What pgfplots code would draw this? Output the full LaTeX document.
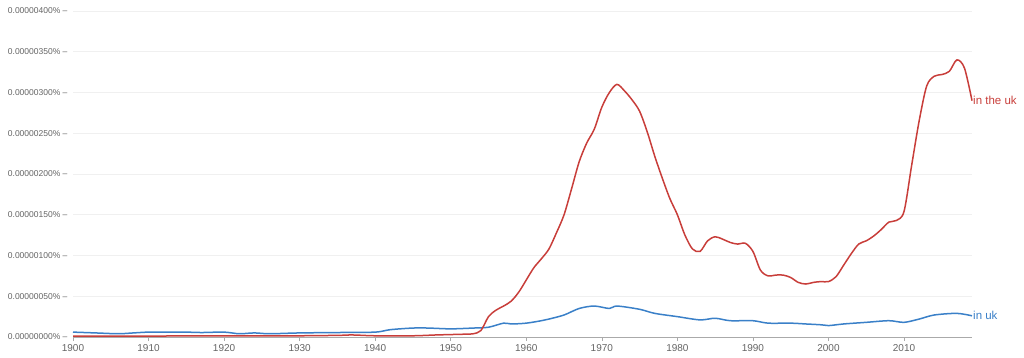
\documentclass[border=0pt]{standalone}
\usepackage{pgfplots}
\pgfplotsset{compat=1.18}
\usepackage{fontspec}
\setmainfont{Liberation Sans}
\definecolor{ngred}{RGB}{200,62,58}
\definecolor{ngblue}{RGB}{58,128,200}
\definecolor{txt}{RGB}{100,100,100}
\definecolor{gridc}{RGB}{240,240,240}
\definecolor{axc}{RGB}{170,170,170}
\begin{document}
\begin{tikzpicture}[x=1pt,y=1pt]
\begin{axis}[
  at={(73pt,20pt)}, anchor=south west,
  scale only axis, width=899pt, height=326pt,
  xmin=1900, xmax=2019, ymin=0, ymax=400,
  axis y line*=left,
  axis x line*=bottom,
  y axis line style={draw=none},
  x axis line style={draw=axc, line width=0.8pt, -},
  /pgf/number format/assume math mode=true,
  xtick={1900,1910,...,2010},
  xticklabel style={font=\fontsize{10}{11}\selectfont, text=txt},
  xticklabel={\pgfmathprintnumber[fixed,1000 sep={},assume math mode=true]{\tick}},
  tick align=outside,
  major tick length=4pt,
  xtick style={draw=axc, line width=0.6pt},
  ytick={0,50,...,400},
  yticklabels={0.00000000\%~–,0.00000050\%~–,0.00000100\%~–,0.00000150\%~–,0.00000200\%~–,0.00000250\%~–,0.00000300\%~–,0.00000350\%~–,0.00000400\%~–},
  yticklabel style={font=\fontsize{8.5}{10}\selectfont, text=txt, anchor=east, xshift=2pt},
  ymajorgrids, grid style={draw=gridc, line width=0.6pt},
  ytick style={draw=none},
  clip=false,
]
\addplot[ngblue, line width=1.5pt, smooth, tension=0.5] coordinates {
(1900,6) (1903,5) (1906,4) (1908,5) (1910,6) (1913,6) (1915,6) (1917,5.5) (1920,6) (1922,4) (1924,5) (1926,4) (1930,5) (1935,5.5) (1940,6) (1942,9) (1945,11) (1947,11) (1950,10) (1953,11) (1955,12) (1957,17) (1958,16) (1960,17) (1962,20) (1963,22) (1965,27) (1967,35) (1969,38) (1971,35) (1972,38) (1975,34) (1977,29) (1980,25) (1983,21) (1985,23) (1987,20) (1990,20) (1992,17) (1995,17) (1997,16) (1999,15) (2000,14) (2002,16) (2005,18) (2008,20) (2010,18) (2012,22) (2014,27) (2017,29) (2019,26)
};
\addplot[ngred, line width=1.5pt, smooth, tension=0.5] coordinates {
(1900,1) (1905,1) (1910,1) (1915,1.5) (1920,1.5) (1925,1.5) (1930,1.5) (1935,2) (1937,2.5) (1940,1.5) (1945,1.5) (1948,2.5) (1950,3) (1952,3.5) (1953,4) (1954,8) (1955,25) (1956,33) (1957,38) (1958,44) (1959,55) (1960,70) (1961,85) (1962,96) (1963,108) (1964,128) (1965,150) (1966,182) (1967,215) (1968,238) (1969,255) (1970,282) (1971,300) (1972,310) (1973,302) (1974,291) (1975,277) (1976,252) (1977,222) (1978,195) (1979,170) (1980,150) (1981,125) (1982,108) (1983,105) (1984,118) (1985,123) (1986,120) (1987,116) (1988,114) (1989,115) (1990,105) (1991,82) (1992,75) (1993,76) (1994,76) (1995,73) (1996,67) (1997,65) (1998,67) (1999,68) (2000,68) (2001,74) (2002,88) (2003,102) (2004,114) (2005,118) (2006,124) (2007,132) (2008,141) (2009,143) (2010,154) (2011,210) (2012,265) (2013,308) (2014,320) (2015,322) (2016,326) (2017,340) (2018,330) (2019,290)
};
\node[anchor=west, text=ngred, font=\fontsize{11.5}{12}\selectfont, inner sep=1pt] at (axis cs:2019,290) {in the uk};
\node[anchor=west, text=ngblue, font=\fontsize{11.5}{12}\selectfont, inner sep=1pt] at (axis cs:2019,26) {in uk};
\end{axis}
\pgfresetboundingbox
\path[use as bounding box] (0,0) rectangle (1024pt,357pt);
\end{tikzpicture}
\end{document}
